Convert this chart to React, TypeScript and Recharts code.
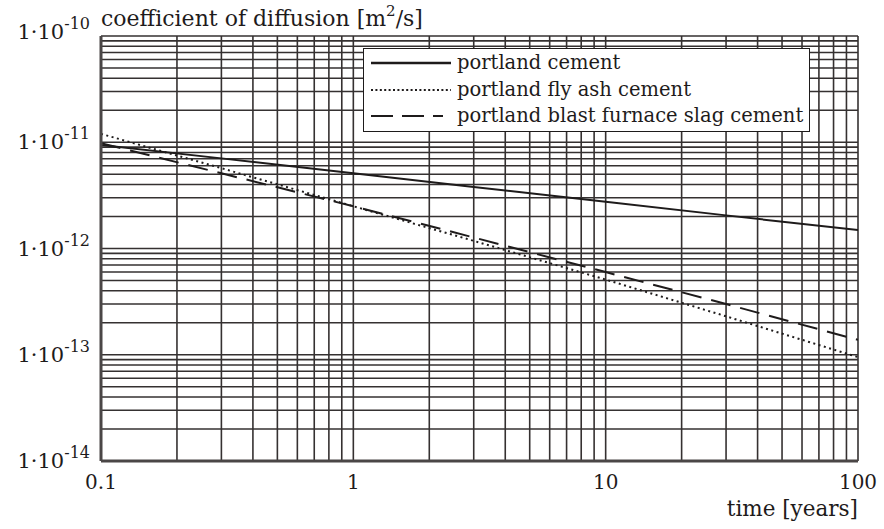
import React from 'react';
import { LineChart, Line, XAxis, YAxis, ReferenceLine, Legend } from 'recharts';

// time [years]
const times = [0.1, 0.3, 1, 3, 10, 30, 100];
const portland = [9.4e-12, 7.05e-12, 5.1e-12, 3.8e-12, 2.75e-12, 2.05e-12, 1.49e-12];
const flyAsh = [1.2e-11, 5.7e-12, 2.5e-12, 1.18e-12, 5.1e-13, 2.3e-13, 9.5e-14];
const slag = [9.8e-12, 5.1e-12, 2.5e-12, 1.27e-12, 6.0e-13, 3.0e-13, 1.38e-13];

const xTicks = [0.1, 1, 10, 100];
const xTickLabels = ['0.1', '1', '10', '100'];
const yTicks = [1e-14, 1e-13, 1e-12, 1e-11, 1e-10];
const yExponents = ['-14', '-13', '-12', '-11', '-10'];

const seriesNames = ['portland cement', 'portland fly ash cement', 'portland blast furnace slag cement'];

const FONT = '"DejaVu Serif", serif';
const INK = '#1e1b1b';
const GRID = '#353131';

const data = times.map((t, i) => ({ t, portland: portland[i], flyAsh: flyAsh[i], slag: slag[i] }));

// minor log grid: 1..9 x each decade
const decadeLines = (starts: number[], last: number) => {
  const out: number[] = [];
  starts.forEach((d) => [1, 2, 3, 4, 5, 6, 7, 8, 9].forEach((m) => out.push(d * m)));
  out.push(last);
  return out;
};
const xGrid = decadeLines([0.1, 1, 10], 100);
const yGrid = decadeLines([1e-14, 1e-13, 1e-12, 1e-11], 1e-10);

const YTick = ({ x, y, payload }: any) => {
  const i = yTicks.findIndex((v) => Math.abs(v - payload.value) / v < 1e-6);
  const shift = i === yTicks.length - 1 ? -4 : 0;
  return (
    <text x={x} y={y + shift} textAnchor="end" fontFamily={FONT} fontSize={21} fill={INK} dominantBaseline="central">
      <tspan>1·10</tspan>
      <tspan fontSize={16} dy={-9}>{yExponents[i]}</tspan>
    </text>
  );
};

const XTick = ({ x, y, payload }: any) => {
  const i = xTicks.findIndex((v) => Math.abs(v - payload.value) / v < 1e-6);
  return (
    <text x={x} y={y} textAnchor="middle" fontFamily={FONT} fontSize={20} fill={INK} dominantBaseline="central">
      {xTickLabels[i]}
    </text>
  );
};

const sample = (dash?: string, w = 2) => (
  <svg width={82} height={10} style={{ display: 'block' }}>
    <line x1={1} y1={5} x2={81} y2={5} stroke={INK} strokeWidth={w} strokeDasharray={dash} />
  </svg>
);

const LegendBox = () => (
  <div
    style={{
      background: '#fff',
      border: `1.5px solid ${INK}`,
      boxSizing: 'border-box',
      width: 447,
      height: 84,
      padding: '1px 0 0 6px',
      fontFamily: FONT,
      fontSize: 19.5,
      color: INK,
      lineHeight: '26px',
    }}
  >
    {[sample(undefined, 2.4), sample('2 2.4', 2.2), sample('22 9 22 9 10 100', 2)].map((s, i) => (
      <div key={i} style={{ display: 'flex', alignItems: 'center', height: 26.5 }}>
        {s}
        <span style={{ marginLeft: 5 }}>{seriesNames[i]}</span>
      </div>
    ))}
  </div>
);

export default function App() {
  return (
    <div style={{ position: 'relative', width: 884, height: 529, background: '#fff' }}>
      <style>{'body{margin:0}'}</style>
      <LineChart width={884} height={529} data={data} margin={{ top: 36, right: 26, left: 0, bottom: 0 }}>
        <XAxis
          dataKey="t"
          type="number"
          scale="log"
          domain={[0.1, 100]}
          ticks={xTicks}
          allowDataOverflow
          height={68}
          tickLine={false}
          tickSize={0}
          tickMargin={21}
          axisLine={{ stroke: '#4a4646', strokeWidth: 3 }}
          tick={<XTick />}
          label={{
            content: ({ viewBox }: any) => (
              <text
                x={viewBox.x + viewBox.width}
                y={viewBox.y + 47}
                textAnchor="end"
                dominantBaseline="central"
                fontFamily={FONT}
                fontSize={21.5}
                fill={INK}
              >
                time [years]
              </text>
            ),
          }}
        />
        <YAxis
          type="number"
          scale="log"
          domain={[1e-14, 1e-10]}
          ticks={yTicks}
          allowDataOverflow
          width={101}
          tickLine={false}
          tickSize={0}
          tickMargin={11}
          axisLine={{ stroke: '#4a4646', strokeWidth: 3 }}
          tick={<YTick />}
          label={{
            content: ({ viewBox }: any) => (
              <text
                x={viewBox.x + viewBox.width}
                y={viewBox.y - 18}
                textAnchor="start"
                dominantBaseline="central"
                fontFamily={FONT}
                fontSize={22}
                fill={INK}
              >
                <tspan>coefficient of diffusion [m</tspan>
                <tspan fontSize={15} dy={-7}>2</tspan>
                <tspan dy={7}>/s]</tspan>
              </text>
            ),
          }}
        />
        {xGrid.map((v) => (
          <ReferenceLine key={'x' + v} x={v} stroke={GRID} strokeWidth={1.6} />
        ))}
        {yGrid.map((v) => (
          <ReferenceLine key={'y' + v} y={v} stroke={GRID} strokeWidth={1.6} />
        ))}
        <Legend
          layout="horizontal"
          verticalAlign="middle"
          align="center"
          content={<LegendBox />}
          wrapperStyle={{ position: 'absolute', left: 363, top: 48, width: 447, height: 84 }}
        />
        <Line type="linear" dataKey="portland" stroke={INK} strokeWidth={2} dot={false} isAnimationActive={false} />
        <Line type="linear" dataKey="flyAsh" stroke={INK} strokeWidth={2} strokeDasharray="2 3.5" dot={false} isAnimationActive={false} />
        <Line type="linear" dataKey="slag" stroke={INK} strokeWidth={2} strokeDasharray="20 10" dot={false} isAnimationActive={false} />
      </LineChart>
    </div>
  );
}
